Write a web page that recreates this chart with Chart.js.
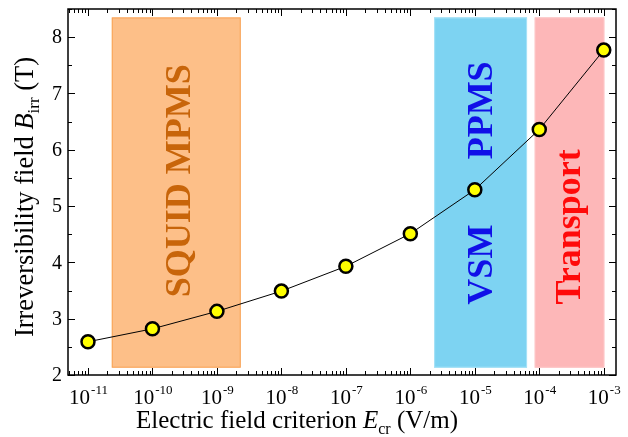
<!DOCTYPE html>
<html>
<head>
<meta charset="utf-8">
<script src="https://cdn.jsdelivr.net/npm/chart.js@4"></script>
<style>
  html, body { margin: 0; padding: 0; background: #fff; }
  #wrap { width: 628px; height: 437px; }
</style>
</head>
<body>
<div id="wrap"><canvas id="myChart"></canvas></div>
<script>
// data
const criterion = [1e-11, 1e-10, 1e-9, 1e-8, 1e-7, 1e-6, 1e-5, 1e-4, 1e-3];
const bIrr = [2.59, 2.82, 3.13, 3.49, 3.93, 4.51, 5.29, 6.36, 7.77];

const xTicks = [-11, -10, -9, -8, -7, -6, -5, -4, -3]; // exponents
const yTicks = [2, 3, 4, 5, 6, 7, 8];

// measurement ranges (shaded bands)
const bandNames = ["SQUID MPMS", "VSM", "Transport"];
const bandStart = [2.34e-11, 2.34e-6, 8.5e-5];
const bandEnd = [2.34e-9, 6.46e-5, 1.02e-3];
const bandBottom = 2.13;
const bandTop = 8.35;
const bandFill = ["#FDBF88", "#7DD3F2", "#FDB7B8"];
const bandLine = ["#F9A458", "#A8E2F7", "#FCC5C6"];

// band labels: text, x, y, colour
const labelText = ["SQUID MPMS", "VSM", "PPMS", "Transport"];
const labelX = [2.5e-10, 1.2e-5, 1.2e-5, 2.75e-4];
const labelY = [5.45, 3.96, 6.70, 4.63];
const labelColor = ["#C8650A", "#1010E8", "#1010E8", "#FF0A0A"];

const serif = '"Liberation Serif", "Times New Roman", serif';

const decorPlugin = {
  id: 'decor',
  beforeDatasetsDraw(chart) {
    const c = chart.ctx, xs = chart.scales.x, ys = chart.scales.y;
    c.save();
    for (let i = 0; i < bandStart.length; i++) {
      const x0 = xs.getPixelForValue(bandStart[i]);
      const x1 = xs.getPixelForValue(bandEnd[i]);
      const y0 = ys.getPixelForValue(bandTop);
      const y1 = ys.getPixelForValue(bandBottom);
      c.fillStyle = bandFill[i];
      c.fillRect(x0, y0, x1 - x0, y1 - y0);
      c.strokeStyle = bandLine[i];
      c.lineWidth = 1;
      c.strokeRect(x0 + 0.5, y0 + 0.5, x1 - x0 - 1, y1 - y0 - 1);
    }
    // rotated band labels
    c.font = 'bold 36px ' + serif;
    c.textAlign = 'center';
    c.textBaseline = 'alphabetic';
    for (let i = 0; i < labelText.length; i++) {
      const px = xs.getPixelForValue(labelX[i]);
      const py = ys.getPixelForValue(labelY[i]);
      c.save();
      c.translate(px + 12, py);
      c.rotate(-Math.PI / 2);
      c.fillStyle = labelColor[i];
      c.fillText(labelText[i], 0, 0);
      c.restore();
    }
    c.restore();
  },
  afterDraw(chart) {
    const c = chart.ctx, xs = chart.scales.x, ys = chart.scales.y;
    const a = chart.chartArea;
    c.save();
    c.strokeStyle = '#000';
    c.lineWidth = 1.5;
    c.strokeRect(a.left, a.top, a.right - a.left, a.bottom - a.top);
    c.lineWidth = 1;
    c.beginPath();
    // x ticks (inward, bottom and top)
    for (let e = -12; e <= -3; e++) {
      for (let m = 1; m <= 9; m++) {
        const v = m * Math.pow(10, e);
        const px = Math.round(xs.getPixelForValue(v)) + 0.5;
        if (px < a.left || px > a.right) continue;
        const len = m === 1 ? 7 : 4;
        c.moveTo(px, a.bottom); c.lineTo(px, a.bottom - len);
        c.moveTo(px, a.top); c.lineTo(px, a.top + len);
      }
    }
    // y ticks (inward, left and right)
    for (let v = 2; v <= 8.5; v += 0.5) {
      const py = Math.round(ys.getPixelForValue(v)) + 0.5;
      const len = Number.isInteger(v) ? 7 : 4;
      c.moveTo(a.left, py); c.lineTo(a.left + len, py);
      c.moveTo(a.right, py); c.lineTo(a.right - len, py);
    }
    c.stroke();

    c.fillStyle = '#000';
    // x tick labels 10^n
    c.textBaseline = 'alphabetic';
    c.textAlign = 'left';
    xTicks.forEach(e => {
      const px = xs.getPixelForValue(Math.pow(10, e));
      c.font = '21px ' + serif;
      const wb = c.measureText('10').width;
      c.font = '13px ' + serif;
      const ex = '-' + Math.abs(e);
      const we = c.measureText(ex).width;
      const x0 = px - (wb + we) / 2;
      c.font = '21px ' + serif;
      c.fillText('10', x0, a.bottom + 29);
      c.font = '13px ' + serif;
      c.fillText(ex, x0 + wb + 1, a.bottom + 19);
    });
    // y tick labels
    c.font = '20px ' + serif;
    c.textAlign = 'right';
    c.textBaseline = 'middle';
    yTicks.forEach(v => {
      c.fillText(String(v), a.left - 6, ys.getPixelForValue(v) + 1);
    });

    // axis titles with italic symbol and subscript
    const drawParts = (parts, cx, baseY) => {
      let w = 0;
      parts.forEach(p => { c.font = p[1]; w += c.measureText(p[0]).width; });
      let x = cx - w / 2;
      c.textAlign = 'left';
      c.textBaseline = 'alphabetic';
      parts.forEach(p => {
        c.font = p[1];
        c.fillText(p[0], x, baseY + p[2]);
        x += c.measureText(p[0]).width;
      });
    };
    drawParts([
      ['Electric field criterion ', '25px ' + serif, 0],
      ['E', 'italic 25px ' + serif, 0],
      ['cr', '16px ' + serif, 6],
      [' (V/m)', '25px ' + serif, 0]
    ], (a.left + a.right) / 2 - 45, 428);

    c.save();
    c.translate(33, 197);
    c.rotate(-Math.PI / 2);
    drawParts([
      ['Irreversibility field ', '26.5px ' + serif, 0],
      ['B', 'italic 26.5px ' + serif, 0],
      ['irr', '17px ' + serif, 6],
      [' (T)', '26.5px ' + serif, 0]
    ], 0, 0);
    c.restore();
    c.restore();
  }
};

const ctx = document.getElementById('myChart');
const myChart = new Chart(ctx, {
  type: 'line',
  data: {
    datasets: [{
      data: criterion.map((x, i) => ({ x: x, y: bIrr[i] })),
      borderColor: '#000',
      borderWidth: 1,
      pointBackgroundColor: '#FFFF00',
      pointBorderColor: '#000',
      pointBorderWidth: 2.5,
      pointRadius: 6.5,
      tension: 0,
      fill: false
    }]
  },
  options: {
    responsive: true,
    maintainAspectRatio: false,
    animation: false,
    layout: { padding: { left: 68, right: 12, top: 9, bottom: 62 } },
    plugins: { legend: { display: false }, tooltip: { enabled: false } },
    scales: {
      x: {
        type: 'logarithmic',
        display: false,
        min: Math.pow(10, -11.31),
        max: Math.pow(10, -2.81)
      },
      y: {
        type: 'linear',
        display: false,
        min: 2,
        max: 8.5
      }
    }
  },
  plugins: [decorPlugin]
});
</script>
</body>
</html>
